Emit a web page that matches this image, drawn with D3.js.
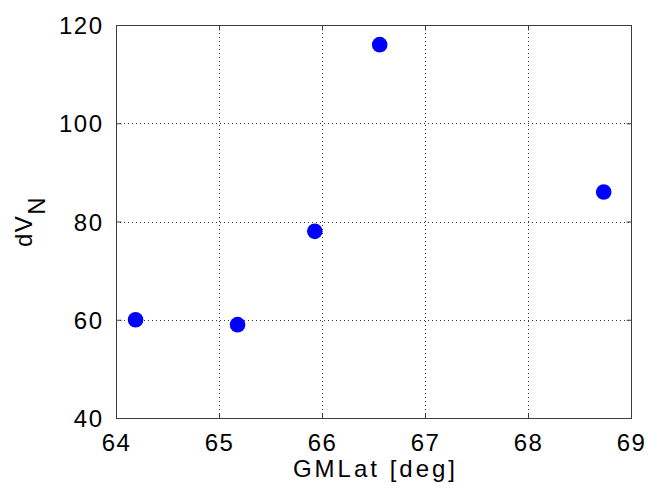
<!DOCTYPE html>
<html>
<head>
<meta charset="utf-8">
<script src="https://cdn.jsdelivr.net/npm/d3@7"></script>
<style>
  html, body { margin: 0; padding: 0; background: #fff; }
  svg { display: block; }
  text { font-family: "Liberation Sans", Arial, Helvetica, sans-serif; fill: #000; }
</style>
</head>
<body>
<svg id="chart" width="648" height="491"></svg>
<script>
// Observations: geomagnetic latitude vs northward velocity change
const gmlat = [64.19, 65.18, 65.93, 66.56, 68.735];
const dVN = [60, 59, 78, 116, 86];

const xTicks = [64, 65, 66, 67, 68, 69];
const yTicks = [40, 60, 80, 100, 120];
const xDomain = [64, 69];
const yDomain = [40, 120];

const svg = d3.select("#chart");
const plotLeft = 116, plotRight = 631, plotTop = 25, plotBottom = 418;

const x = d3.scaleLinear().domain(xDomain).range([plotLeft, plotRight]);
const y = d3.scaleLinear().domain(yDomain).range([plotBottom, plotTop]);
const px = v => Math.round(v) + 0.5;

const frameColor = "#3c3c3c";

// dotted grid at interior ticks
const grid = svg.append("g").attr("stroke", "#333").attr("stroke-width", 1)
  .attr("stroke-dasharray", "1,3");
grid.selectAll("line.gx").data(xTicks.filter(t => t > xDomain[0] && t < xDomain[1]))
  .join("line").attr("class", "gx")
  .attr("x1", d => px(x(d))).attr("x2", d => px(x(d)))
  .attr("y1", plotTop).attr("y2", plotBottom);
grid.selectAll("line.gy").data(yTicks.filter(t => t > yDomain[0] && t < yDomain[1]))
  .join("line").attr("class", "gy")
  .attr("y1", d => px(y(d))).attr("y2", d => px(y(d)))
  .attr("x1", plotLeft).attr("x2", plotRight);

// axes with inward ticks, mirrored on top and right
const tickLen = 5;
const axB = d3.axisBottom(x).tickValues(xTicks).tickSizeInner(-tickLen).tickSizeOuter(0).tickPadding(15).tickFormat(d3.format("d"));
const axT = d3.axisTop(x).tickValues(xTicks).tickSizeInner(-tickLen).tickSizeOuter(0).tickFormat("");
const axL = d3.axisLeft(y).tickValues(yTicks).tickSizeInner(-tickLen).tickSizeOuter(0).tickPadding(13).tickFormat(d3.format("d"));
const axR = d3.axisRight(y).tickValues(yTicks).tickSizeInner(-tickLen).tickSizeOuter(0).tickFormat("");

function styleAxis(g) {
  g.select(".domain").remove();
  g.selectAll(".tick line").attr("stroke", frameColor);
  g.selectAll(".tick text").attr("font-size", 24).attr("letter-spacing", "1.5px")
    .attr("fill", "#000").attr("font-family", "'Liberation Sans', Arial, sans-serif");
}
svg.append("g").attr("transform", `translate(0,${px(plotBottom)})`).call(axB).call(styleAxis)
  .selectAll(".tick text").attr("dy", "0.71em");
svg.append("g").attr("transform", `translate(0,${px(plotTop)})`).call(axT).call(styleAxis);
svg.append("g").attr("transform", `translate(${px(plotLeft)},0)`).call(axL).call(styleAxis)
  .selectAll(".tick text").attr("dy", "0.36em");
svg.append("g").attr("transform", `translate(${px(plotRight)},0)`).call(axR).call(styleAxis);

// frame
svg.append("rect")
  .attr("x", px(plotLeft)).attr("y", px(plotTop))
  .attr("width", Math.round(plotRight) - Math.round(plotLeft))
  .attr("height", Math.round(plotBottom) - Math.round(plotTop))
  .attr("fill", "none").attr("stroke", frameColor).attr("stroke-width", 1);

// data points
svg.append("g").selectAll("circle")
  .data(gmlat.map((v, i) => ({ lat: v, dv: dVN[i] })))
  .join("circle")
  .attr("cx", d => x(d.lat)).attr("cy", d => y(d.dv))
  .attr("r", 7.8).attr("fill", "#0000ff");

// axis labels
svg.append("text")
  .attr("x", (plotLeft + plotRight) / 2 + 2).attr("y", 477)
  .attr("text-anchor", "middle").attr("font-size", 24).attr("letter-spacing", "3px")
  .text("GMLat [deg]");

const yl = svg.append("text")
  .attr("transform", `translate(32,${(plotTop + plotBottom) / 2}) rotate(-90)`)
  .attr("text-anchor", "middle").attr("font-size", 24).attr("letter-spacing", "1.5px");
yl.append("tspan").text("dV");
yl.append("tspan").attr("dy", 13).text("N");
</script>
</body>
</html>
